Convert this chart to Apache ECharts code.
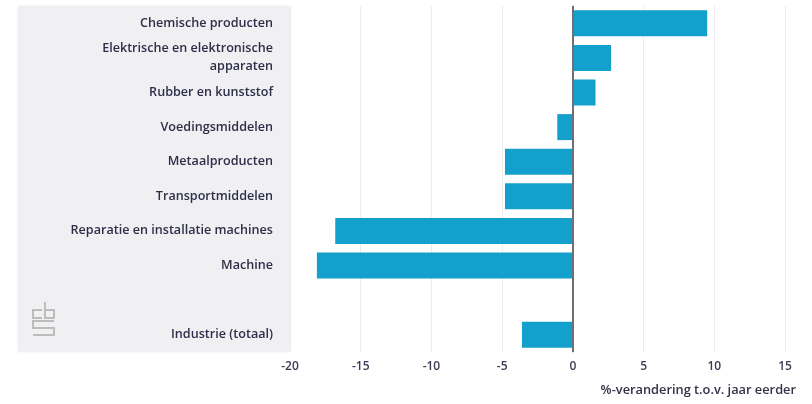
<!DOCTYPE html>
<html>
<head>
<meta charset="utf-8">
<script src="https://cdn.jsdelivr.net/npm/echarts@6/dist/echarts.min.js"></script>
<style>
html,body{margin:0;padding:0;background:#fff;}
#c{width:812px;height:404px;}
</style>
</head>
<body>
<div id="c"></div>
<script>
const categories = [
  'Chemische producten',
  'Elektrische en elektronische\napparaten',
  'Rubber en kunststof',
  'Voedingsmiddelen',
  'Metaalproducten',
  'Transportmiddelen',
  'Reparatie en installatie machines',
  'Machine',
  '',
  'Industrie (totaal)'
];
const values = [9.5, 2.7, 1.6, -1.1, -4.8, -4.8, -16.8, -18.1, null, -3.6];
const axisName = '%-verandering t.o.v. jaar eerder';

const chart = echarts.init(document.getElementById('c'), null, {renderer: 'canvas'});
const font = '"Open Sans", "Noto Sans", sans-serif';
const logoStyle = {fill: 'none', stroke: '#bcbcbc', lineWidth: 2};
chart.setOption({
  animation: false,
  backgroundColor: '#ffffff',
  graphic: [
    {type: 'rect', z: -10, shape: {x: 18, y: 6, width: 272, height: 346, r: 3},
     style: {fill: '#f0f0f2', shadowBlur: 3, shadowColor: 'rgba(0,0,0,0.08)'}},
    {type: 'polyline', shape: {points: [[42, 310], [33, 310], [33, 318], [42, 318]]}, style: logoStyle},
    {type: 'polyline', shape: {points: [[45, 302], [45, 318], [54, 318], [54, 310], [45, 310]]}, style: logoStyle},
    {type: 'polyline', shape: {points: [[54, 321], [33, 321], [33, 328], [54, 328], [54, 335], [33, 335]]}, style: logoStyle},
    {type: 'text', right: 16, top: 384,
     style: {text: axisName, fill: '#333348', font: '600 12.8px ' + font}}
  ],
  grid: {left: 290, right: 27, top: 6, bottom: 52, containLabel: false},
  xAxis: {
    type: 'value', min: -20, max: 15, interval: 5,
    axisLine: {show: false}, axisTick: {show: false},
    axisLabel: {color: '#3a3a55', fontSize: 12, fontWeight: 600, fontFamily: font, margin: 9},
    splitLine: {show: true, lineStyle: {color: '#ececec', width: 1}}
  },
  yAxis: {
    type: 'category', data: categories, inverse: true,
    axisLine: {show: true, lineStyle: {color: '#c4c4c8', width: 1.5}},
    axisTick: {show: false},
    axisLabel: {color: '#2e2e4a', fontSize: 12.6, fontWeight: 600, fontFamily: font,
      margin: 17, align: 'right', lineHeight: 18, padding: [3, 0, 0, 0]}
  },
  series: [{
    type: 'bar', data: values, barWidth: 26,
    itemStyle: {color: '#14a0cc'},
    markLine: {
      silent: true, symbol: 'none', label: {show: false},
      lineStyle: {color: '#707070', width: 2, type: 'solid'},
      data: [{xAxis: 0}]
    }
  }]
});
</script>
</body>
</html>
